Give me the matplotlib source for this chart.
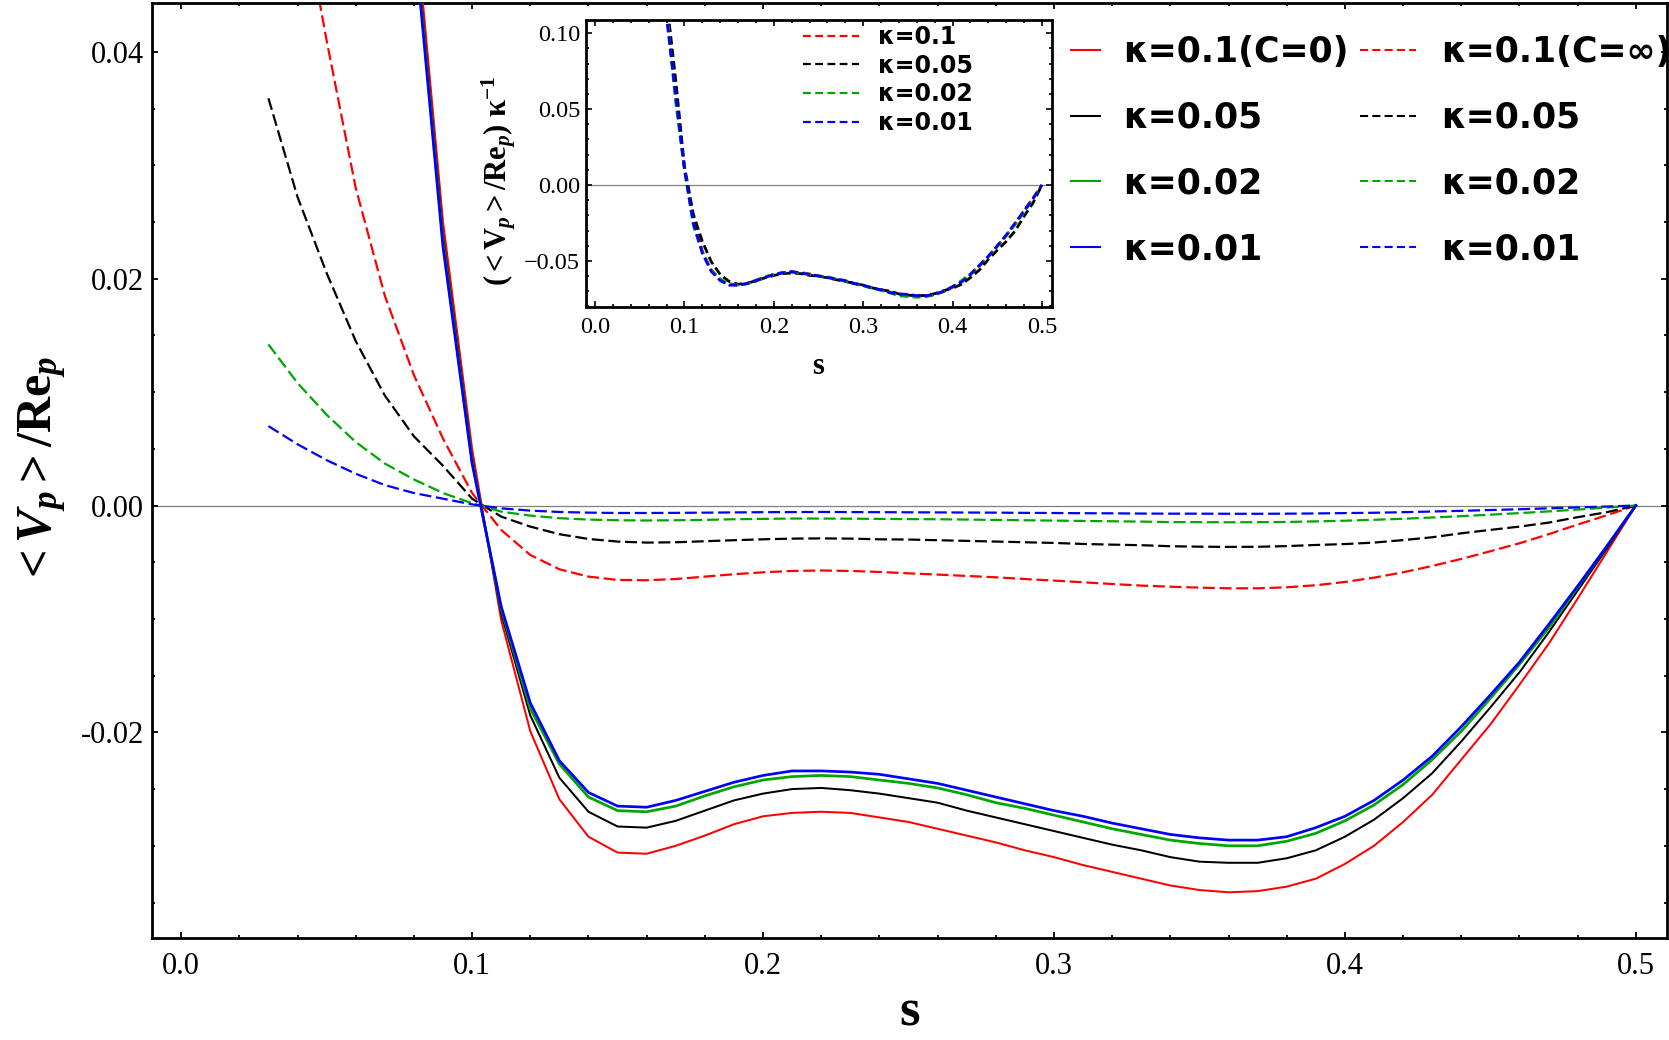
import matplotlib
matplotlib.use('Agg')
import matplotlib.pyplot as plt
import numpy as np
from matplotlib.lines import Line2D
from matplotlib.ticker import MultipleLocator

plt.rcParams['mathtext.fontset'] = 'custom'
plt.rcParams['mathtext.rm'] = 'Liberation Serif'
plt.rcParams['mathtext.it'] = 'Liberation Serif:italic'
plt.rcParams['mathtext.bf'] = 'Liberation Serif:bold'
plt.rcParams['mathtext.bfit'] = 'Liberation Serif:bold:italic'

# ---- data ----
kappas = [0.1, 0.05, 0.02, 0.01]
colors = ['#ff0000', '#000000', '#00a600', '#0000ff']

# C = 0 (solid), s = 0.08 ... 0.50
s_solid = np.round(np.arange(8, 51) / 100.0, 2)
v_solid_01 = [0.0530, 0.0250, 0.0050, -0.0101, -0.0199, -0.0259, -0.0292, -0.0306, -0.0307, -0.0300,
              -0.0291, -0.0281, -0.0274, -0.0271, -0.0270, -0.0271, -0.0275, -0.0279, -0.0285, -0.0291,
              -0.0297, -0.0304, -0.0310, -0.0317, -0.0323, -0.0329, -0.0335, -0.0339, -0.0341, -0.0340,
              -0.0336, -0.0329, -0.0316, -0.0300, -0.0279, -0.0255, -0.0224, -0.0193, -0.0158, -0.0122,
              -0.0082, -0.0041, 0.0]
v_solid_005 = [0.0515, 0.0238, 0.0042, -0.0095, -0.0185, -0.0240, -0.0270, -0.0283, -0.0284, -0.0278,
               -0.0269, -0.0260, -0.0254, -0.0250, -0.0249, -0.0251, -0.0254, -0.0258, -0.0262, -0.0269,
               -0.0275, -0.0281, -0.0287, -0.0293, -0.0299, -0.0304, -0.0310, -0.0314, -0.0315, -0.0315,
               -0.0311, -0.0304, -0.0292, -0.0277, -0.0258, -0.0236, -0.0208, -0.0178, -0.0147, -0.0112,
               -0.0075, -0.0038, 0.0]
v_solid_002 = [0.0510, 0.0232, 0.0039, -0.0091, -0.0179, -0.0228, -0.0257, -0.0269, -0.0270, -0.0265,
               -0.0256, -0.0248, -0.0242, -0.0239, -0.0238, -0.0239, -0.0242, -0.0245, -0.0249, -0.0255,
               -0.0262, -0.0267, -0.0273, -0.0279, -0.0285, -0.0290, -0.0295, -0.0298, -0.0300, -0.0300,
               -0.0296, -0.0289, -0.0278, -0.0264, -0.0246, -0.0224, -0.0199, -0.0170, -0.0140, -0.0108,
               -0.0072, -0.0036, 0.0]
v_solid_001 = [0.0505, 0.0228, 0.0037, -0.0089, -0.0174, -0.0225, -0.0253, -0.0265, -0.0266, -0.0260,
               -0.0252, -0.0244, -0.0238, -0.0234, -0.0234, -0.0235, -0.0237, -0.0241, -0.0245, -0.0251,
               -0.0257, -0.0263, -0.0269, -0.0274, -0.0280, -0.0285, -0.0290, -0.0293, -0.0295, -0.0295,
               -0.0292, -0.0284, -0.0274, -0.0260, -0.0242, -0.0221, -0.0195, -0.0167, -0.0138, -0.0105,
               -0.0071, -0.0036, 0.0]

# C = infinity (dashed), s = 0.03 ... 0.50
s_dash = np.round(np.arange(3, 51) / 100.0, 2)
v_dash_01 = [0.0715, 0.0550, 0.0410, 0.0280, 0.0185, 0.0115, 0.0059, 0.0011,
             -0.00215, -0.00436, -0.00562, -0.00627, -0.00656, -0.00659, -0.00648, -0.00627, -0.00606, -0.00589,
             -0.00577, -0.00573, -0.00577, -0.00586, -0.00598, -0.00609, -0.00621, -0.00633, -0.00648, -0.00662,
             -0.00677, -0.00692, -0.00706, -0.00716, -0.00724, -0.00730, -0.00730, -0.00721, -0.00703, -0.00674,
             -0.00636, -0.00589, -0.00533, -0.00471, -0.00403, -0.00333, -0.00253, -0.00168, -0.00086, 0.0]
v_dash_005 = [0.0359, 0.0272, 0.0205, 0.0145, 0.0097, 0.0061, 0.0035, 0.0006,
              -0.00098, -0.00186, -0.00253, -0.00295, -0.00318, -0.00327, -0.00324, -0.00315, -0.00306, -0.00298,
              -0.00292, -0.00290, -0.00292, -0.00298, -0.00300, -0.00306, -0.00312, -0.00318, -0.00324, -0.00330,
              -0.00339, -0.00345, -0.00350, -0.00359, -0.00363, -0.00365, -0.00364, -0.00358, -0.00348, -0.00340,
              -0.00327, -0.00305, -0.00280, -0.00245, -0.00215, -0.00186, -0.00151, -0.00103, -0.00059, 0.0]
v_dash_002 = [0.0142, 0.0108, 0.0080, 0.0056, 0.0037, 0.0023, 0.0011, 0.0002,
              -0.00054, -0.00089, -0.00112, -0.00124, -0.00130, -0.00132, -0.00130, -0.00127, -0.00121, -0.00118,
              -0.00115, -0.00115, -0.00116, -0.00118, -0.00120, -0.00121, -0.00124, -0.00127, -0.00130, -0.00133,
              -0.00136, -0.00139, -0.00142, -0.00146, -0.00147, -0.00148, -0.00147, -0.00145, -0.00140, -0.00134,
              -0.00126, -0.00117, -0.00106, -0.00094, -0.00081, -0.00067, -0.00052, -0.00036, -0.00018, 0.0]
v_dash_001 = [0.0070, 0.0054, 0.0040, 0.0028, 0.0018, 0.0011, 0.0006, 0.0001,
              -0.00025, -0.00045, -0.00057, -0.00063, -0.00066, -0.00066, -0.00065, -0.00063, -0.00061, -0.00059,
              -0.00058, -0.00057, -0.00058, -0.00059, -0.00060, -0.00061, -0.00062, -0.00063, -0.00065, -0.00066,
              -0.00068, -0.00069, -0.00071, -0.00072, -0.00072, -0.00073, -0.00073, -0.00072, -0.00070, -0.00067,
              -0.00064, -0.00059, -0.00053, -0.00047, -0.00040, -0.00033, -0.00025, -0.00017, -0.00009, 0.0]

solid_series = [v_solid_01, v_solid_005, v_solid_002, v_solid_001]
dash_series = [v_dash_01, v_dash_005, v_dash_002, v_dash_001]

solid_labels = ['κ=0.1(C=0)', 'κ=0.05', 'κ=0.02', 'κ=0.01']
dash_labels = ['κ=0.1(C=∞)', 'κ=0.05', 'κ=0.02', 'κ=0.01']
inset_labels = ['κ=0.1', 'κ=0.05', 'κ=0.02', 'κ=0.01']

x_ticks = [0.0, 0.1, 0.2, 0.3, 0.4, 0.5]
x_ticklabels = ['0.0', '0.1', '0.2', '0.3', '0.4', '0.5']
y_ticks = [-0.02, 0.0, 0.02, 0.04]
y_ticklabels = ['-0.02', '0.00', '0.02', '0.04']
iy_ticks = [-0.05, 0.0, 0.05, 0.10]
iy_ticklabels = ['\u22120.05', '0.00', '0.05', '0.10']

serif = 'Liberation Serif'
lw_solid = [1.45, 1.45, 1.95, 1.95]
dash_pat = (5.4, 2.1)

fig = plt.figure(figsize=(16.69, 10.40), dpi=100)

# ---- main axes ----
ax = fig.add_axes([0.0911, 0.0984, 0.9077, 0.8987])
ax.axhline(0, color='#808080', lw=0.9, zorder=1)
for v, c, lw in zip(solid_series, colors, lw_solid):
    ax.plot(s_solid, v, color=c, lw=lw, zorder=3)
for v, c in zip(dash_series, colors):
    ax.plot(s_dash, v, color=c, lw=1.6, dashes=dash_pat, zorder=2)

ax.set_xlim(-0.01, 0.5107)
ax.set_ylim(-0.0381, 0.0443)
ax.set_xticks(x_ticks)
ax.set_xticklabels(x_ticklabels, fontfamily=serif, fontsize=22)
ax.set_yticks(y_ticks)
ax.set_yticklabels(y_ticklabels, fontfamily=serif, fontsize=22)
ax.xaxis.set_minor_locator(MultipleLocator(0.02))
ax.yaxis.set_minor_locator(MultipleLocator(0.005))
ax.tick_params(which='both', direction='in', top=True, right=True, width=1.3)
ax.tick_params(which='major', length=4.5)
ax.tick_params(which='minor', length=2.5)
ax.tick_params(axis='x', which='major', pad=10)
ax.tick_params(axis='y', which='major', pad=6)
for sp in ax.spines.values():
    sp.set_linewidth(2.0)

ax.set_xlabel('s', fontfamily=serif, fontweight='bold', fontsize=38, labelpad=6)
ax.set_ylabel(r'$\mathbf{<}\mathbfit{V}_{\mathbfit{p}}\mathbf{>/Re}_{\mathbfit{p}}$', fontsize=36, labelpad=8)

# legends (two columns, solid and dashed)
leg_font = dict(family='DejaVu Sans', weight='bold', size=25)
h_solid = [Line2D([], [], color=c, lw=1.5) for c in colors]
h_dash = [Line2D([], [], color=c, lw=1.5, dashes=(3.9, 2.0)) for c in colors]
leg1 = ax.legend(h_solid, solid_labels, loc='upper left', bbox_to_anchor=(0.642, 0.966),
                 bbox_transform=fig.transFigure, frameon=False, prop=leg_font,
                 handlelength=0.83, handletextpad=0.65, labelspacing=0.91,
                 borderpad=0, borderaxespad=0)
ax.add_artist(leg1)
ax.legend(h_dash, dash_labels, loc='upper left', bbox_to_anchor=(0.815, 0.966),
          bbox_transform=fig.transFigure, frameon=False, prop=leg_font,
          handlelength=1.6, handletextpad=0.72, labelspacing=0.91,
          borderpad=0, borderaxespad=0)

# ---- inset ----
ins = fig.add_axes([0.3509, 0.7045, 0.2793, 0.2763])
ins.set_facecolor('white')
ins.axhline(0, color='#808080', lw=0.9, zorder=1)
for v, c, k in zip(dash_series, colors, kappas):
    ins.plot(s_dash, np.array(v) / k, color=c, lw=2.0, dashes=(3.0, 1.5), zorder=2)
ins.set_xlim(-0.0106, 0.511)
ins.set_ylim(-0.0806, 0.1087)
ins.set_xticks(x_ticks)
ins.set_xticklabels(x_ticklabels, fontfamily=serif, fontsize=17.5)
ins.set_yticks(iy_ticks)
ins.set_yticklabels(iy_ticklabels, fontfamily=serif, fontsize=17.5)
ins.xaxis.set_minor_locator(MultipleLocator(0.02))
ins.yaxis.set_minor_locator(MultipleLocator(0.01))
ins.tick_params(which='both', direction='in', top=True, right=True, width=1.2)
ins.tick_params(which='major', length=4)
ins.tick_params(which='minor', length=2)
ins.tick_params(axis='x', which='major', pad=7)
ins.tick_params(axis='y', which='major', pad=4)
for sp in ins.spines.values():
    sp.set_linewidth(2.0)
ins.set_xlabel(r'$\mathbf{s}$', fontsize=22, labelpad=9)
ins.set_ylabel(r'$\mathbf{(<V}_{\mathbfit{p}}\mathbf{>/Re}_{\mathbfit{p}}\mathbf{)\ κ}^{\mathbf{-1}}$',
               fontsize=22)
ins.yaxis.set_label_coords(-0.145, 0.44)

h_ins = [Line2D([], [], color=c, lw=1.6, dashes=(3.5, 2.0)) for c in colors]
ins.legend(h_ins, inset_labels, loc='upper left', bbox_to_anchor=(0.481, 0.976),
           bbox_transform=fig.transFigure, frameon=False,
           prop=dict(family='DejaVu Sans', weight='bold', size=17),
           handlelength=2.4, handletextpad=0.8, labelspacing=0.2,
           borderpad=0, borderaxespad=0)

fig.savefig('out.png', dpi=100)
